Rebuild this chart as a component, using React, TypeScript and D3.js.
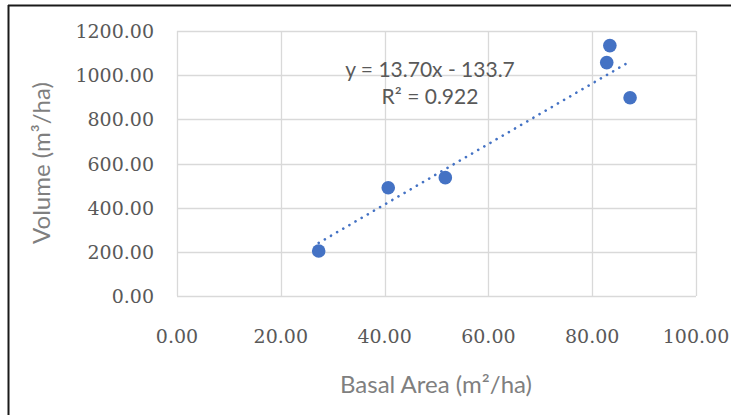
import React from 'react';
import * as d3 from 'd3';

// basal area (m2/ha) vs volume (m3/ha)
const basalArea = [27.3, 40.7, 51.7, 82.8, 83.4, 87.3];
const volume = [204, 490, 536, 1057, 1134, 898];

const xTicks = [0, 20, 40, 60, 80, 100];
const yTicks = [0, 200, 400, 600, 800, 1000, 1200];

// excel trendline as printed on the chart
const slope = 13.7;
const intercept = -133.7;
const r2 = 0.922;

const W = 731;
const H = 415;
const blue = '#4472C4';
const grey = '#595959';

const App = () => {
  const x = d3.scaleLinear().domain([0, 100]).range([177, 696]);
  const y = d3.scaleLinear().domain([0, 1200]).range([296, 31]);

  const pts = basalArea.map((b, i) => ({ b, v: volume[i] }));
  const [x0, x1] = d3.extent(basalArea) as [number, number];
  const trend = d3.line<number>()
    .x(d => x(d))
    .y(d => y(slope * d + intercept));

  return (
    <svg width={W} height={H} style={{ position: 'absolute', left: 0, top: 0 }}>
      <rect x={0} y={0} width={W} height={H} fill="#fff" />
      {/* frame of the pasted chart, only top and left show */}
      <line x1={8} x2={W} y1={5.5} y2={5.5} stroke="#1a1a1a" strokeWidth={2} />
      <line x1={8.5} x2={8.5} y1={5} y2={H} stroke="#1a1a1a" strokeWidth={2} />

      {yTicks.map(t => (
        <line key={'gy' + t} x1={x(0)} x2={x(100)} y1={Math.round(y(t)) + 0.5} y2={Math.round(y(t)) + 0.5}
          stroke="#d9d9d9" strokeWidth={1.3} />
      ))}
      {xTicks.map(t => (
        <line key={'gx' + t} x1={Math.round(x(t)) + 0.5} x2={Math.round(x(t)) + 0.5} y1={y(1200)} y2={y(0)}
          stroke="#d9d9d9" strokeWidth={1.3} />
      ))}

      {yTicks.map(t => (
        <text key={'ly' + t} x={154} y={y(t) + 7} textAnchor="end" fontFamily="DejaVu Serif" fontSize={19}
          fill={grey}>{t.toFixed(2)}</text>
      ))}
      {xTicks.map(t => (
        <text key={'lx' + t} x={x(t)} y={343} textAnchor="middle" fontFamily="DejaVu Serif" fontSize={19}
          fill={grey}>{t.toFixed(2)}</text>
      ))}

      <path d={trend([x0, x1]) || ''} fill="none" stroke={blue} strokeWidth={2.6}
        strokeDasharray="0.1 7" strokeLinecap="round" />

      {pts.map((p, i) => (
        <circle key={i} cx={x(p.b)} cy={y(p.v)} r={6.8} fill={blue} />
      ))}

      <text x={430} y={77} textAnchor="middle" fontFamily="Lato" fontSize={21} fill={grey}>
        {`y = ${slope.toFixed(2)}x - ${Math.abs(intercept).toFixed(1)}`}
      </text>
      <text x={430} y={104} textAnchor="middle" fontFamily="Lato" fontSize={21} fill={grey}>
        {`R² = ${r2}`}
      </text>

      <text x={436} y={393} textAnchor="middle" fontFamily="Lato" fontSize={24} fill="#7f7f7f">
        Basal Area (m²/ha)
      </text>
      <text transform="translate(50,163) rotate(-90)" textAnchor="middle" fontFamily="Lato" fontSize={24}
        fill="#7f7f7f">
        Volume (m³/ha)
      </text>
    </svg>
  );
};

export default App;
